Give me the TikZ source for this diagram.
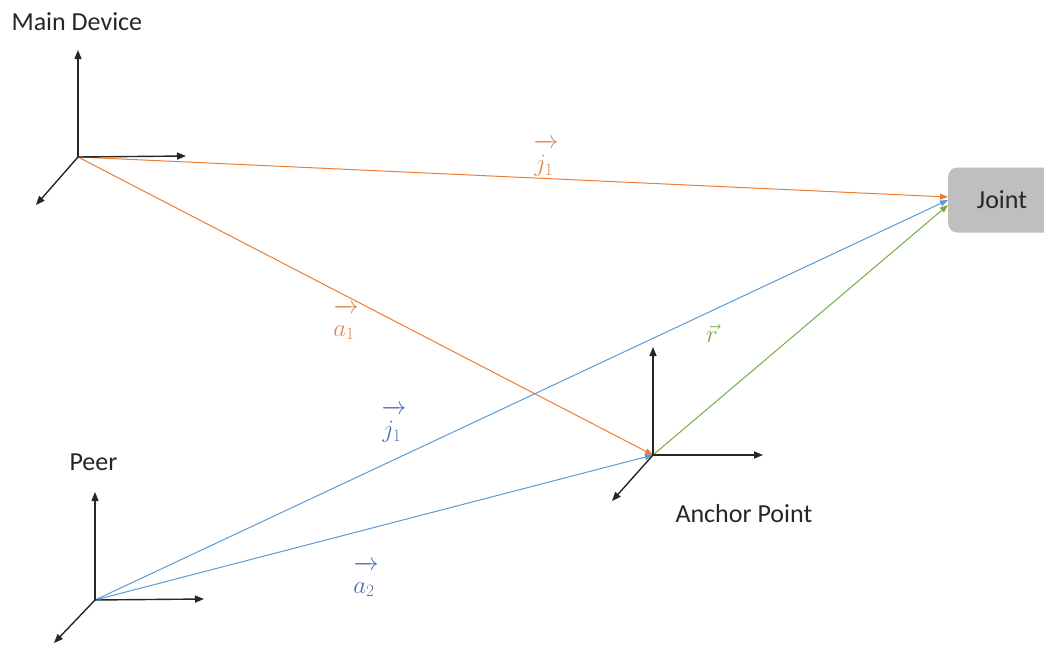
\documentclass[tikz,border=0pt]{standalone}
\usepackage{fontspec}
\setmainfont{Carlito}
\usetikzlibrary{arrows.meta}
\definecolor{vorange}{HTML}{ED7D31}
\definecolor{vblue}{HTML}{5B9BD5}
\definecolor{vgreen}{HTML}{70AD47}
\definecolor{lorange}{HTML}{D9894F}
\definecolor{lblue}{HTML}{4F6FAF}
\definecolor{jointgray}{HTML}{BFBFBF}
\newcommand{\vlab}[1]{\overrightarrow{\rule{0pt}{2.1ex}#1\,}}
\begin{document}
\begin{tikzpicture}[x=1pt,y=-1pt,
  axis/.style={draw=black!85,line width=1.4pt,-{Triangle[length=9pt,width=7pt]}},
  vec/.style={line width=1pt,-{Triangle[length=8pt,width=6pt]}},
  lbl/.style={font=\fontsize{26}{30}\selectfont,text=black!85},
  mlbl/.style={font=\fontsize{24}{28}\selectfont}]
\useasboundingbox (0,0) rectangle (1044,648);
% origins
\coordinate (M) at (78,157);
\coordinate (A) at (653,455);
\coordinate (P) at (95,600);
% axis tips
\coordinate (Mu) at (78,50);
\coordinate (Mr) at (186,156);
\coordinate (Md) at (36,205);
\coordinate (Au) at (653,347);
\coordinate (Ar) at (763,455);
\coordinate (Ad) at (612,501);
\coordinate (Pu) at (95,492);
\coordinate (Pr) at (204,599);
\coordinate (Pd) at (54,643);
% joint
\node[fill=jointgray,rounded corners=9pt,minimum width=110pt,minimum height=65pt,anchor=west,inner sep=0pt] (J) at (948,200) {};
\node[lbl] (Jt) at (1002,200) {Joint};
% vectors
\draw[vec,vorange] (M) -- (948,197) coordinate (Jo);
\draw[vec,vorange] (M) -- (A);
\draw[vec,vblue] (P) -- (948,200) coordinate (Jb);
\draw[vec,vblue] (P) -- (A);
\draw[vec,vgreen] (A) -- (948,205) coordinate (Jg);
% axes
\foreach \o/\t in {M/Mu,M/Mr,M/Md,A/Au,A/Ar,A/Ad,P/Pu,P/Pr,P/Pd}
  \draw[axis] (\o) -- (\t);
% labels
\node[lbl,anchor=west] (mainl) at (8,22) {Main Device};
\node[lbl,anchor=west] (peerl) at (66,462) {Peer};
\node[lbl,anchor=west] (anchl) at (672,514) {Anchor Point};
\node[mlbl,text=lorange] (lj1) at (546,158) {$\vlab{j_1}$};
\node[mlbl,text=lorange] (la1) at (346,322) {$\vlab{a_1}$};
\node[mlbl,text=lblue] (lj2) at (394,424) {$\vlab{j_1}$};
\node[mlbl,text=lblue] (la2) at (366,579) {$\vlab{a_2}$};
\node[mlbl,text=vgreen] (lr) at (712,334) {$\vec{r}$};
\end{tikzpicture}
\end{document}
